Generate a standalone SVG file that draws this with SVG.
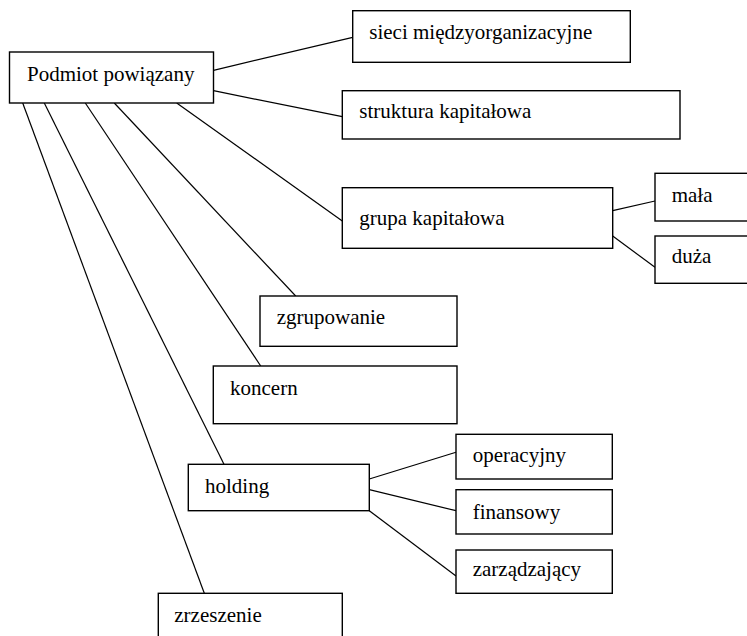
<svg xmlns="http://www.w3.org/2000/svg" width="747" height="636" viewBox="0 0 747 636">
<style>
rect{fill:#fff;stroke:#000;stroke-width:1.4}
text{font-family:'Liberation Serif','DejaVu Serif',serif;font-size:21px;fill:#000}
#connectors line{stroke:#000;stroke-width:1.2}
</style>
<rect x="0" y="0" width="747" height="636" style="stroke:none"/>
<g id="connectors">
<line x1="213.5" y1="70.3" x2="352.7" y2="37.3"/>
<line x1="213.5" y1="90.7" x2="342.3" y2="116.7"/>
<line x1="176.7" y1="103" x2="342.3" y2="221"/>
<line x1="114.3" y1="103" x2="295.7" y2="296"/>
<line x1="85.3" y1="103" x2="260.7" y2="366"/>
<line x1="44.3" y1="103" x2="224" y2="464.3"/>
<line x1="22.7" y1="103" x2="204.3" y2="593.3"/>
<line x1="612.7" y1="210.7" x2="655" y2="201"/>
<line x1="612.7" y1="236" x2="655" y2="267.3"/>
<line x1="369.3" y1="479" x2="456" y2="452.3"/>
<line x1="369.3" y1="489.7" x2="456" y2="510.7"/>
<line x1="369.3" y1="510.7" x2="456" y2="576"/>
</g>
<g font-family="Liberation Serif, DejaVu Serif, serif">
<g id="podmiot"><rect x="9.5" y="52" width="204" height="51"/><text x="27" y="81">Podmiot powiązany</text></g>
<g id="sieci"><rect x="352.7" y="10.7" width="277.6" height="51.6"/><text x="369.3" y="39">sieci międzyorganizacyjne</text></g>
<g id="struktura"><rect x="342.3" y="90.7" width="337.7" height="48.3"/><text x="359.3" y="118.3">struktura kapitałowa</text></g>
<g id="grupa"><rect x="342.3" y="187.7" width="270.4" height="60.6"/><text x="359.3" y="225">grupa kapitałowa</text></g>
<g id="mala"><rect x="655" y="173.3" width="100" height="47.7"/><text x="671.7" y="201.7">mała</text></g>
<g id="duza"><rect x="655" y="236" width="100" height="47.3"/><text x="671.7" y="263.3">duża</text></g>
<g id="zgrupowanie"><rect x="260" y="296" width="197" height="50.3"/><text x="276.7" y="324.3">zgrupowanie</text></g>
<g id="koncern"><rect x="213.3" y="366" width="243.7" height="57.7"/><text x="230" y="395">koncern</text></g>
<g id="holding"><rect x="188.3" y="464.3" width="181" height="46.4"/><text x="205" y="492.7">holding</text></g>
<g id="operacyjny"><rect x="456" y="434.3" width="156.3" height="44.7"/><text x="472.7" y="461.7">operacyjny</text></g>
<g id="finansowy"><rect x="456" y="489.7" width="156.3" height="44.3"/><text x="472.7" y="519">finansowy</text></g>
<g id="zarzadzajacy"><rect x="456" y="550" width="156.3" height="43.3"/><text x="472.7" y="576">zarządzający</text></g>
<g id="zrzeszenie"><rect x="158.3" y="593.3" width="184" height="50"/><text x="174.3" y="621.7">zrzeszenie</text></g>
</g>
</svg>
